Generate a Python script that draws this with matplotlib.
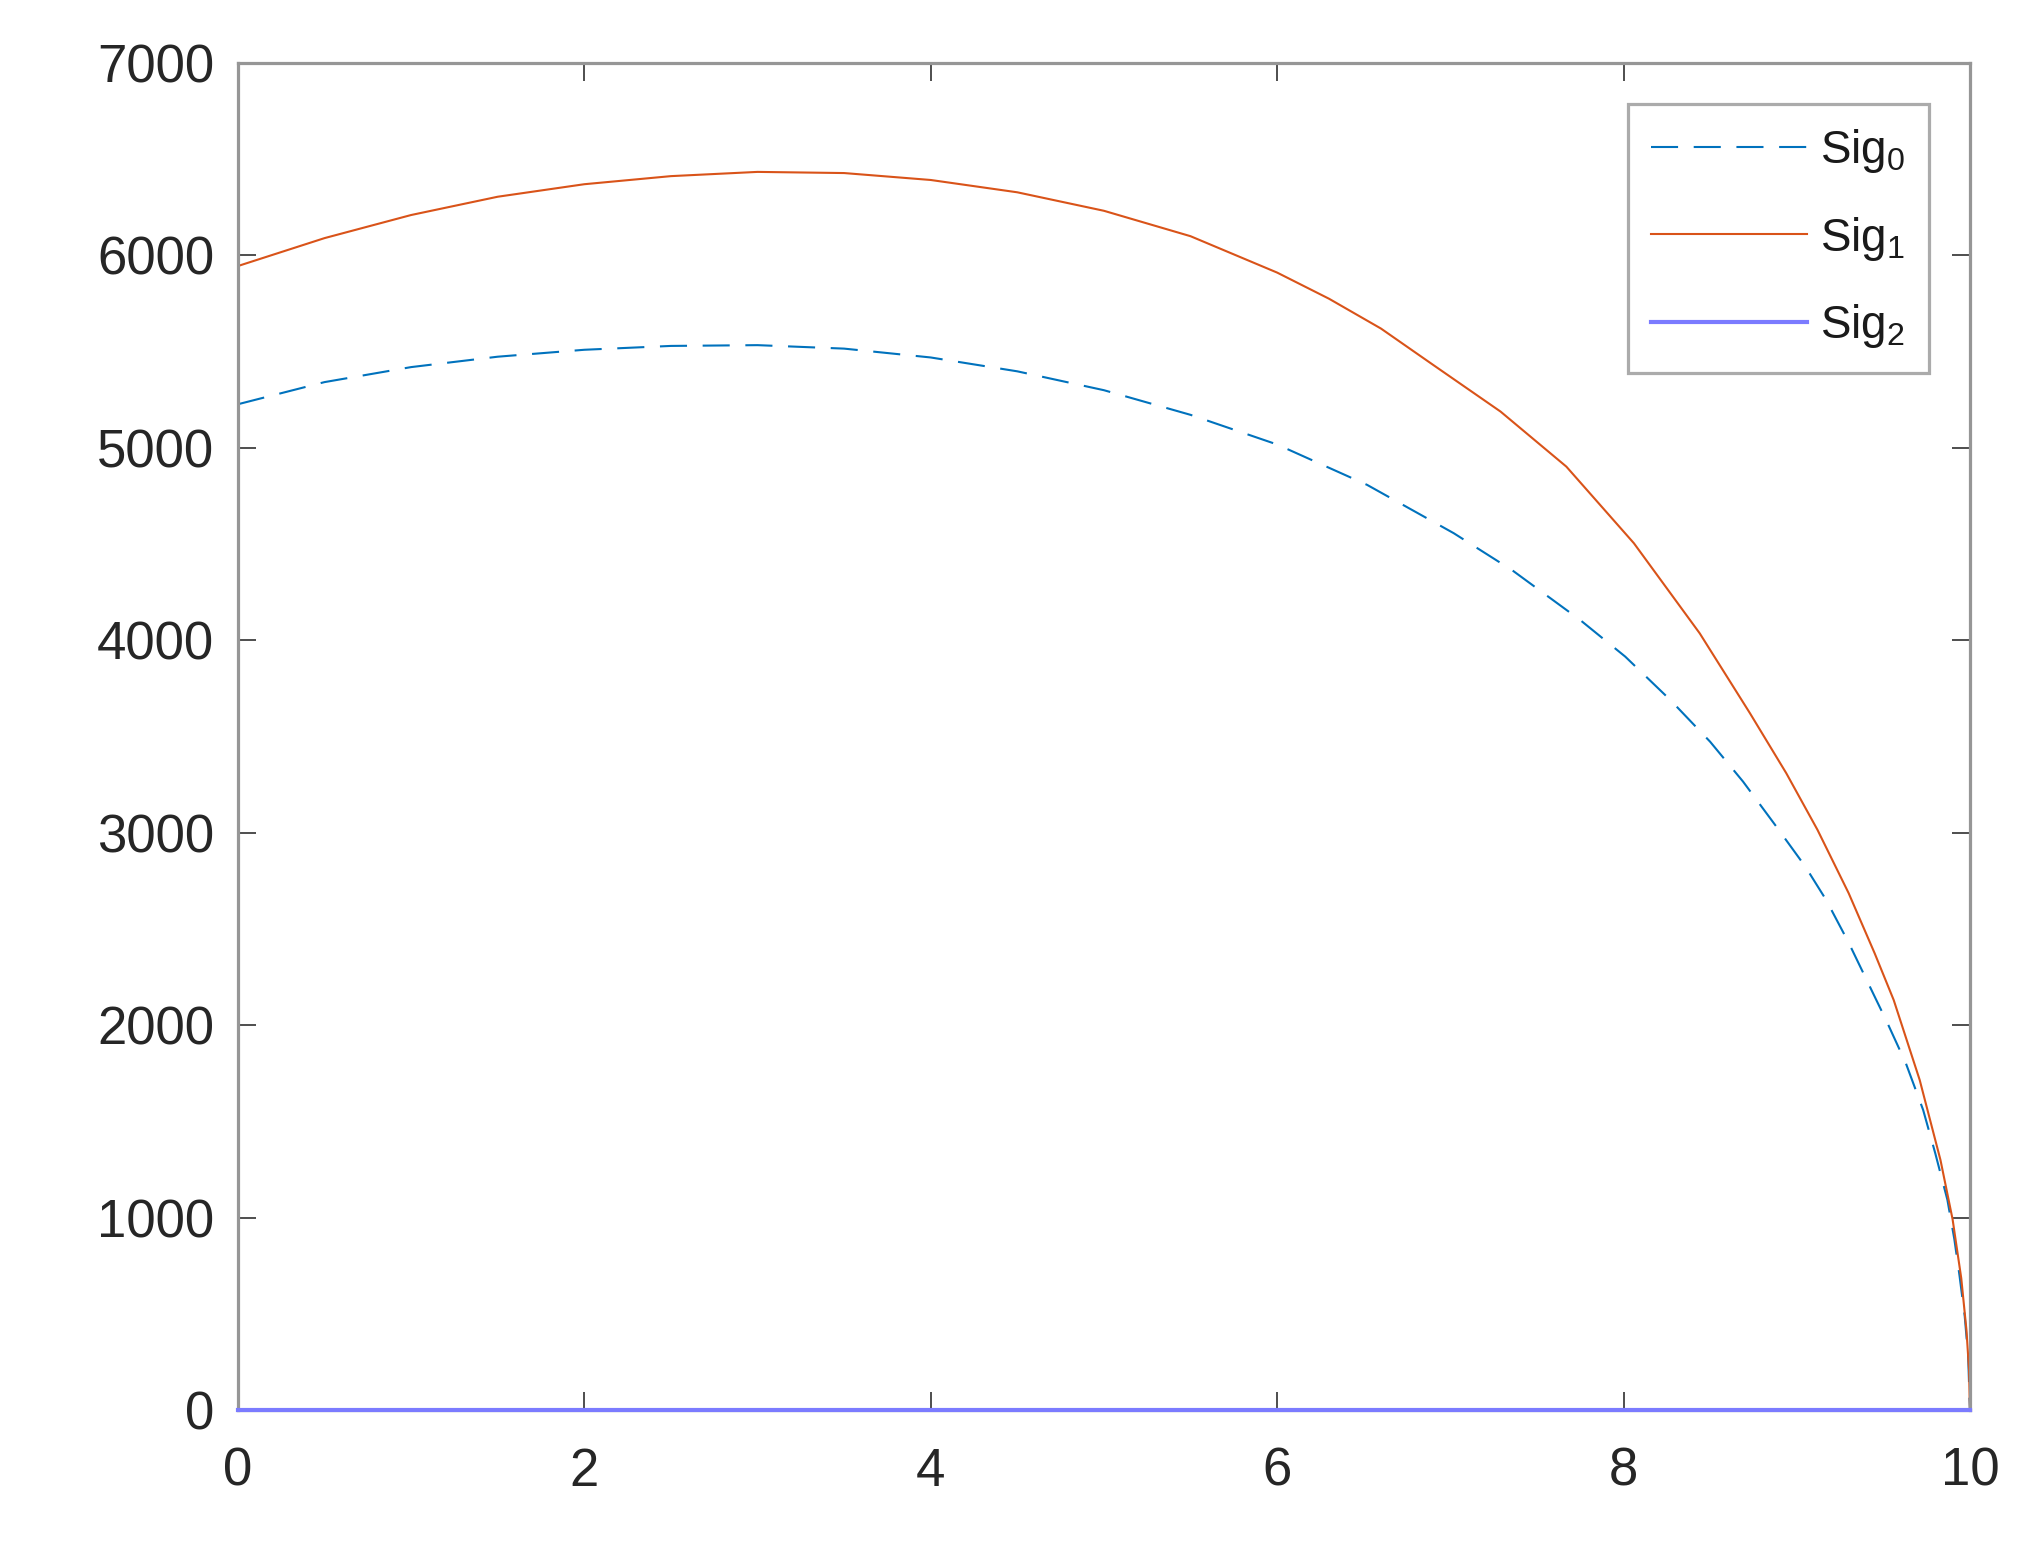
import matplotlib
matplotlib.use('Agg')
import matplotlib.pyplot as plt

plt.rcParams['font.family'] = ['Liberation Sans', 'DejaVu Sans']
plt.rcParams['mathtext.fontset'] = 'custom'
plt.rcParams['mathtext.rm'] = 'Liberation Sans'

# values
x_sig0 = [0, 0.5, 1, 1.5, 2, 2.5, 3, 3.5, 4, 4.5, 5, 5.5, 6, 6.52, 7.02, 7.36,
          7.75, 8.01, 8.27, 8.5, 8.69, 8.88, 9.05, 9.17, 9.3, 9.45, 9.52, 9.63,
          9.73, 9.8, 9.87, 9.91, 9.94, 9.97, 9.99, 10]
sig0 = [5227, 5342, 5420, 5474, 5510, 5530, 5534, 5516, 5470, 5398, 5300, 5172,
        5018, 4808, 4557, 4363, 4106, 3916, 3691, 3474, 3267, 3036, 2825, 2652,
        2430, 2150, 2020, 1804, 1561, 1336, 1094, 890, 700, 490, 280, 0]

x_sig1 = [0, 0.5, 1, 1.5, 2, 2.5, 3, 3.5, 4, 4.5, 5, 5.5, 6, 6.3, 6.6, 6.9,
          7.29, 7.67, 8.06, 8.44, 8.73, 8.94, 9.12, 9.3, 9.45, 9.56, 9.71, 9.83,
          9.9, 9.95, 9.98, 9.995, 10]
sig1 = [5945, 6090, 6210, 6305, 6370, 6412, 6434, 6428, 6392, 6328, 6232, 6100,
        5911, 5775, 5620, 5432, 5189, 4903, 4505, 4037, 3622, 3310, 3016, 2687,
        2375, 2132, 1717, 1301, 993, 687, 418, 210, 0]

x_sig2 = [0, 10]
sig2 = [0, 0]

labels = ['Sig$_\\mathregular{0}$', 'Sig$_\\mathregular{1}$', 'Sig$_\\mathregular{2}$']
x_ticks = [0, 2, 4, 6, 8, 10]
y_ticks = [0, 1000, 2000, 3000, 4000, 5000, 6000, 7000]

fig = plt.figure(figsize=(20.3, 15.58), dpi=100)
ax = fig.add_axes([0.1172, 0.0947, 0.8532, 0.8649])

ax.plot(x_sig0, sig0, color='#0072BD', lw=1.5, linestyle=(0, (13, 7.5)), label=labels[0])
ax.plot(x_sig1, sig1, color='#D95319', lw=1.5, label=labels[1])
ax.plot(x_sig2, sig2, color='#7B7BFF', lw=3, label=labels[2], clip_on=False, zorder=4)

ax.set_xlim(0, 10)
ax.set_ylim(0, 7000)
ax.set_xticks(x_ticks)
ax.set_yticks(y_ticks)

for s in ax.spines.values():
    s.set_color('#969696')
    s.set_linewidth(2.3)

ax.tick_params(direction='in', length=13, width=1.3, color='#404040',
               labelsize=38, labelcolor='#262626', top=True, right=True)
ax.tick_params(axis='x', pad=26)
ax.tick_params(axis='y', pad=17)

leg = ax.legend(loc='upper right', fontsize=33, frameon=True, fancybox=False,
                edgecolor='#969696', handlelength=3.4, handletextpad=0.3,
                borderaxespad=0.9, labelspacing=0.86, borderpad=0.5)
leg.get_frame().set_linewidth(2.3)
for t in leg.get_texts():
    t.set_color('#1a1a1a')

fig.savefig('out.png', dpi=100, facecolor='white')
